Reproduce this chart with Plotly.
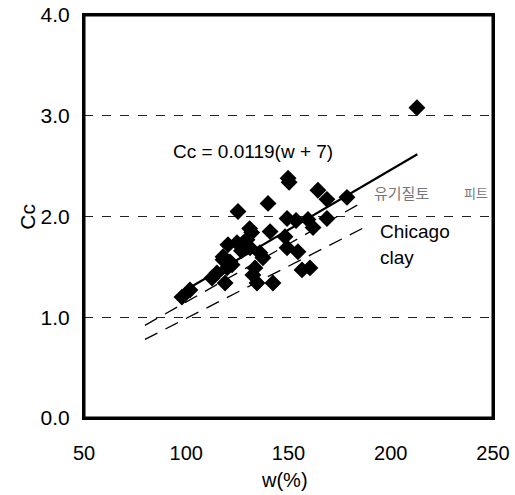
import plotly.graph_objects as go

# Measured data (w %, Cc)
w_data = [212.8, 149.8, 150.3, 164.4, 168.8, 178.6, 125.3, 140.0, 149.3, 153.7,
          159.5, 162.0, 168.8, 132.0, 129.7, 141.0, 148.3, 120.4, 124.8, 131.2,
          149.3, 154.6, 137.5, 136.0, 118.0, 122.4, 120.0, 133.6, 132.6, 156.6,
          160.5, 112.6, 115.0, 119.0, 134.6, 142.4, 101.8, 97.9, 121.4, 118.0,
          130.0, 131.0, 128.0, 127.0]
cc_data = [3.08, 2.38, 2.34, 2.26, 2.17, 2.19, 2.05, 2.13, 1.98, 1.96,
           1.97, 1.89, 1.98, 1.84, 1.77, 1.85, 1.80, 1.72, 1.74, 1.69,
           1.69, 1.65, 1.59, 1.64, 1.57, 1.52, 1.49, 1.49, 1.42, 1.47,
           1.49, 1.39, 1.44, 1.34, 1.34, 1.34, 1.27, 1.20, 1.55, 1.60,
           1.70, 1.88, 1.74, 1.66]

# Regression Cc = 0.0119 (w + 7)
fit_coef = 0.0119
fit_offset = 7
fit_w = [97, 213]
fit_cc = [fit_coef * (w + fit_offset) for w in fit_w]

# Chicago clay band (dashed)
chi_up_w = [79.8, 186.0]
chi_up_cc = [0.92, 2.14]
chi_lo_w = [79.8, 187.0]
chi_lo_cc = [0.78, 1.89]

x_range = [50, 250]
y_range = [0, 4]
x_ticks = [50, 100, 150, 200, 250]
y_ticks = [0.0, 1.0, 2.0, 3.0, 4.0]

FONT = "Liberation Sans, Arial, sans-serif"

fig = go.Figure()
fig.add_trace(go.Scatter(x=chi_up_w, y=chi_up_cc, mode="lines",
                         line=dict(color="black", width=1.3, dash="14px,9px")))
fig.add_trace(go.Scatter(x=chi_lo_w, y=chi_lo_cc, mode="lines",
                         line=dict(color="black", width=1.3, dash="14px,9px")))
fig.add_trace(go.Scatter(x=fit_w, y=fit_cc, mode="lines",
                         line=dict(color="black", width=2.2)))
fig.add_trace(go.Scatter(x=w_data, y=cc_data, mode="markers",
                         marker=dict(symbol="diamond", size=13, color="black")))

fig.add_annotation(x=132.6, y=2.65, text="Cc = 0.0119(w + 7)", showarrow=False,
                   xanchor="center", yanchor="middle",
                   font=dict(family=FONT, size=19, color="black"))
fig.add_annotation(x=190.8, y=2.24, text="유기질토", showarrow=False,
                   xanchor="left", yanchor="middle",
                   font=dict(family="Noto Sans CJK KR", size=15, color="#777777"))
fig.add_annotation(x=235.0, y=2.24, text="피트", showarrow=False,
                   xanchor="left", yanchor="middle",
                   font=dict(family="Noto Sans CJK KR", size=13, color="#777777"))
fig.add_annotation(x=193.8, y=1.85, text="Chicago", showarrow=False,
                   xanchor="left", yanchor="middle",
                   font=dict(family=FONT, size=19, color="black"))
fig.add_annotation(x=193.8, y=1.59, text="clay", showarrow=False,
                   xanchor="left", yanchor="middle",
                   font=dict(family=FONT, size=19, color="black"))
fig.add_annotation(xref="paper", yref="paper", x=-0.139, y=0.5, text="Cc",
                   textangle=-90, showarrow=False, xanchor="center", yanchor="middle",
                   font=dict(family=FONT, size=21, color="black"))
fig.add_annotation(xref="paper", yref="paper", x=0.491, y=-0.154, text="w(%)",
                   showarrow=False, xanchor="center", yanchor="middle",
                   font=dict(family=FONT, size=20, color="black"))

# plot frame
fig.add_shape(type="rect", xref="paper", yref="paper", x0=0, y0=0, x1=1, y1=1,
              line=dict(color="#000000", width=3), layer="above")

fig.update_layout(
    width=515, height=495,
    margin=dict(l=84, r=22, t=15, b=77, autoexpand=False),
    paper_bgcolor="white", plot_bgcolor="white",
    showlegend=False,
    font=dict(family=FONT, size=20, color="black"),
)
fig.update_xaxes(range=x_range, tickvals=x_ticks, ticktext=[str(v) for v in x_ticks],
                 automargin=False,
                 showline=True, linecolor="#000000", linewidth=2, mirror=True,
                 showgrid=False, zeroline=False, ticks="outside", ticklen=16,
                 tickcolor="rgba(0,0,0,0)", tickwidth=1,
                 tickfont=dict(family=FONT, size=20))
fig.update_yaxes(range=y_range, tickvals=y_ticks, ticktext=[f"{v:.1f}" for v in y_ticks],
                 automargin=False,
                 showline=True, linecolor="#000000", linewidth=2, mirror=True,
                 showgrid=True, gridcolor="#222222", gridwidth=1, griddash="dash",
                 zeroline=False, ticks="outside", ticklen=8,
                 tickcolor="rgba(0,0,0,0)", tickwidth=1,
                 tickfont=dict(family=FONT, size=21))

fig.write_html("out.html")
